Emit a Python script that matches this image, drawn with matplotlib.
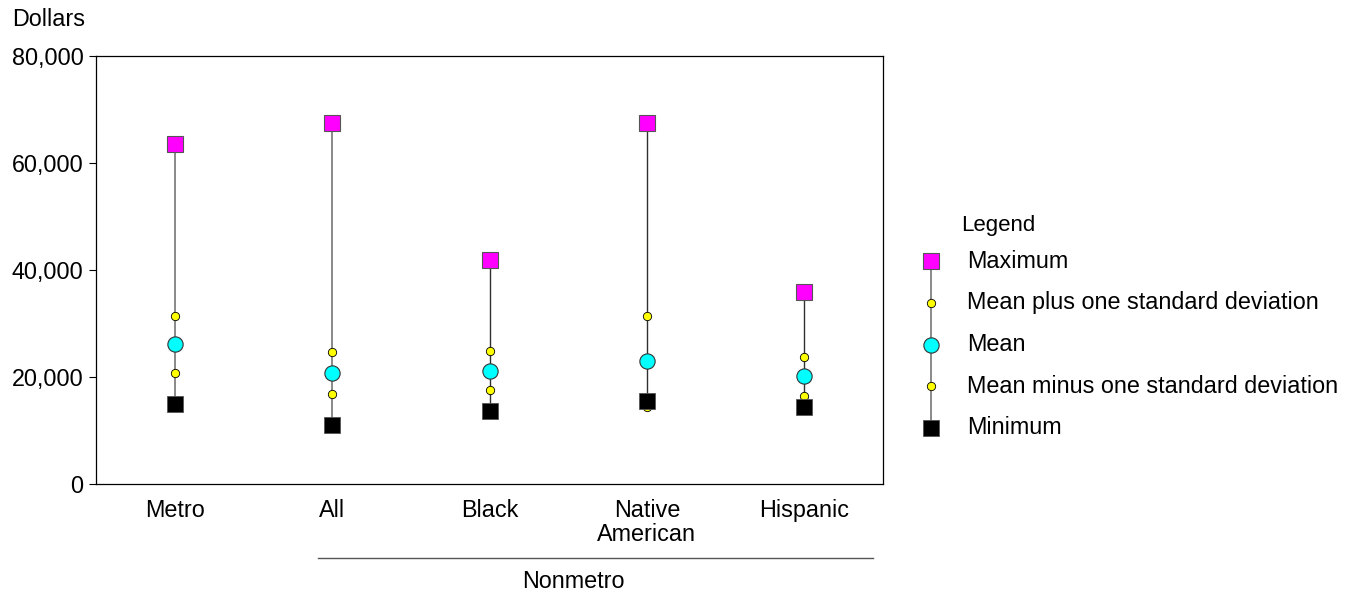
import numpy as np
import matplotlib
matplotlib.use('Agg')
import matplotlib.pyplot as plt

plt.rcParams['font.family'] = ['Liberation Sans', 'DejaVu Sans']

groups = ['Metro', 'All', 'Black', 'Native\nAmerican', 'Hispanic']
maximum = [63600, 67400, 41900, 67400, 35800]
plus_sd = [31400, 24700, 24900, 31400, 23800]
mean = [26100, 20700, 21200, 22900, 20200]
minus_sd = [20800, 16900, 17500, 14400, 16500]
minimum = [15000, 11100, 13600, 15500, 14300]
line_colors = ['#808080', '#808080', '#303030', '#303030', '#303030']

legend_labels = ['Maximum', 'Mean plus one standard deviation', 'Mean',
                 'Mean minus one standard deviation', 'Minimum']

FS = 16.8

fig = plt.figure(figsize=(13.51, 5.94), dpi=100)
ax = fig.add_axes([96 / 1351, 1 - 484 / 594, 787 / 1351, 428 / 594])

x = np.arange(len(groups))
for i in x:
    ax.plot([i, i], [minimum[i], maximum[i]], color=line_colors[i], lw=1.3 if i < 2 else 1.0, zorder=1)

ax.plot(x, minus_sd, 'o', ms=6, mfc='yellow', mec='black', mew=0.6, ls='none', zorder=2)
ax.plot(x, plus_sd, 'o', ms=6, mfc='yellow', mec='black', mew=0.6, ls='none', zorder=2)
ax.plot(x, mean, 'o', ms=11, mfc='cyan', mec='#333333', mew=0.8, ls='none', zorder=3)
ax.plot(x, minimum, 's', ms=12, mfc='black', mec='#555555', mew=0.6, ls='none', zorder=4)
ax.plot(x, maximum, 's', ms=12, mfc='magenta', mec='#555555', mew=0.8, ls='none', zorder=4)

ax.set_xlim(-0.5, len(groups) - 0.5)
ax.set_ylim(0, 80000)
ax.set_yticks(np.arange(0, 80001, 20000))
ax.set_yticklabels(['{:,}'.format(v) for v in range(0, 80001, 20000)], fontsize=FS)
ax.set_xticks(x)
ax.set_xticklabels(groups, fontsize=FS, linespacing=1.1)
ax.tick_params(axis='x', length=0, pad=10.5)
ax.tick_params(axis='y', length=5, width=0.8, pad=4)
for s in ax.spines.values():
    s.set_linewidth(0.9)

fig.text(12 / 1351, 1 - 20 / 594, 'Dollars', fontsize=FS, ha='left', va='center')
fig.add_artist(plt.Line2D([318 / 1351, 873 / 1351], [1 - 558 / 594, 1 - 558 / 594],
                          color='#555555', lw=1.0))
fig.text(573 / 1351, 1 - 581 / 594, 'Nonmetro', fontsize=FS, ha='center', va='center')

# legend drawn by hand
lax = fig.add_axes([910 / 1351, 1 - 440.5 / 594, 440 / 1351, 192 / 594])
lax.set_xlim(0, 1)
lax.set_ylim(4.3, -0.3)
lax.axis('off')
ly = np.arange(len(legend_labels))
lx = 21 / 440
lax.plot([lx, lx], [0, 4], color='#808080', lw=1.3, zorder=1)
lax.plot(lx, 0, 's', ms=11, mfc='magenta', mec='#555555', mew=0.8, zorder=3)
lax.plot(lx, 1, 'o', ms=6, mfc='yellow', mec='black', mew=0.6, zorder=3)
lax.plot(lx, 2, 'o', ms=11, mfc='cyan', mec='#333333', mew=0.8, zorder=3)
lax.plot(lx, 3, 'o', ms=6, mfc='yellow', mec='black', mew=0.6, zorder=3)
lax.plot(lx, 4, 's', ms=11, mfc='black', mec='#555555', mew=0.6, zorder=3)
for i, lab in enumerate(legend_labels):
    lax.text(57 / 440, ly[i], lab, fontsize=FS, ha='left', va='center')
fig.text(961 / 1351, 1 - 226 / 594, 'Legend', fontsize=16, ha='left', va='center')

fig.savefig('out.png', dpi=100)
